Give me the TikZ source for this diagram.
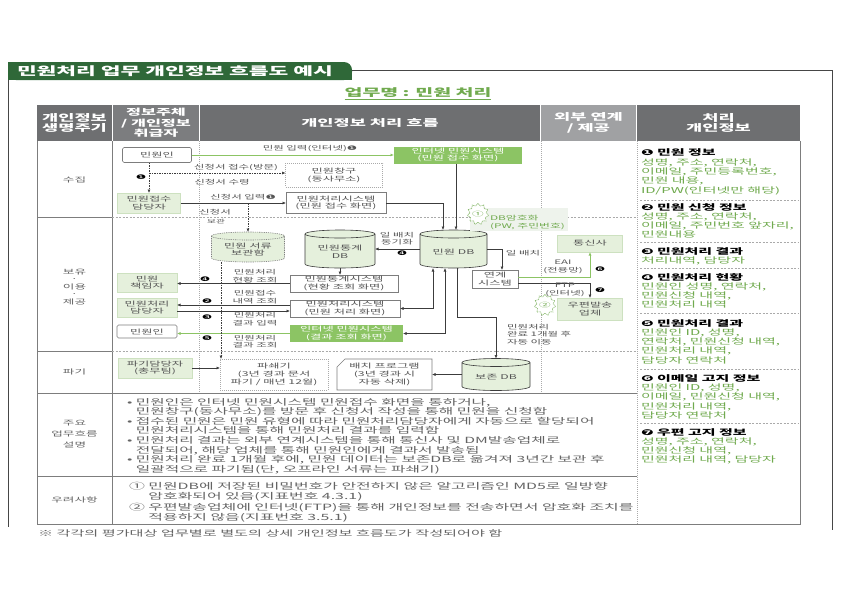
\documentclass[tikz,border=0pt]{standalone}
\usepackage{fontspec}
\setmainfont{Noto Sans CJK KR}[FakeStretch=1.85]
\newfontfamily\dv{DejaVu Sans}[FakeStretch=1.85]
\usetikzlibrary{arrows.meta,shapes.geometric}
\definecolor{tabgreen}{RGB}{47,104,56}
\definecolor{hdark}{RGB}{110,111,113}
\definecolor{hmid}{RGB}{124,125,127}
\definecolor{hlight}{RGB}{160,161,163}
\definecolor{gtext}{RGB}{112,170,78}
\definecolor{gbox}{RGB}{140,196,100}
\definecolor{lgreen}{RGB}{229,240,220}
\definecolor{lgreenb}{RGB}{205,225,192}
\definecolor{lgbg}{RGB}{238,243,236}
\definecolor{txt}{RGB}{85,85,85}
\definecolor{dtxt}{RGB}{100,100,100}
\definecolor{lin}{RGB}{60,60,60}
\definecolor{tline}{RGB}{125,125,125}
\definecolor{dline}{RGB}{170,170,170}
\definecolor{framec}{RGB}{70,70,70}
\newcommand{\fNode}{\fontsize{6.6}{7.8}\selectfont}
\newcommand{\fLab}{\fontsize{6.2}{7.6}\selectfont}
\newcommand{\fRc}{\fontsize{8.1}{9.3}\selectfont}
\newcommand{\fDesc}{\fontsize{8.5}{9.55}\selectfont}
\newcommand{\fHead}{\fontsize{9.5}{10.8}\selectfont}
\newcommand{\fCol}{\fontsize{6.8}{8}\selectfont}
\newcommand{\dbcyl}[7]{%
 \pgfmathsetmacro\cxl{#2-#4/2}%
 \pgfmathsetmacro\cxr{#2+#4/2}%
 \pgfmathsetmacro\cyt{#3-#5/2+4}%
 \pgfmathsetmacro\cyb{#3+#5/2-4}%
 \pgfmathsetmacro\crx{#4/2}%
 \path[#6] (\cxl,\cyt) -- (\cxl,\cyb) arc[start angle=180,end angle=360,x radius=\crx pt,y radius=4pt] -- (\cxr,\cyt) arc[start angle=0,end angle=180,x radius=\crx pt,y radius=4pt] -- cycle;
 \path[#6,fill=none] (\cxl,\cyt) arc[start angle=180,end angle=360,x radius=\crx pt,y radius=4pt];
 \node[minimum width=#4,minimum height=#5] (#1) at (#2,#3) {};
 \node (#1t) at (#2,#3+2.5) {#7};
}
\begin{document}
\begin{tikzpicture}[x=1pt,y=-1pt,
 every node/.style={inner sep=0pt,outer sep=0pt,text=txt,align=center,font=\fNode},
 wbox/.style={draw=tline,fill=white,line width=0.6pt},
 gfbox/.style={fill=gbox,text=white},
 lgbox/.style={fill=lgreen,draw=lgreenb,line width=0.4pt},
 dotbox/.style={draw=dline,dash pattern=on 1pt off 1pt,line width=0.6pt},
 arr/.style={draw=lin,line width=0.6pt,-{Latex[length=3.5pt,width=3pt]}},
 garr/.style={draw=gbox,line width=0.8pt,-{Latex[length=3.5pt,width=3pt]}},
 darr/.style={draw=lin,line width=0.6pt,dash pattern=on 1.5pt off 1pt,-{Latex[length=3.5pt,width=3pt]}},
 biarr/.style={draw=lin,line width=0.6pt,{Latex[length=3.5pt,width=3pt]}-{Latex[length=3.5pt,width=3pt]}},
 lbl/.style={font=\fLab,text=txt},
 bdg/.style={font=\dv\fontsize{6.3}{7}\selectfont,text=black},
 gearnode/.style={star,star points=11,star point ratio=1.3,draw=gtext,dash pattern=on 0.8pt off 0.6pt,line width=0.5pt,fill=white,minimum size=15,text=gtext,font=\fontsize{6.3}{6.3}\selectfont},
 hd/.style={text=white,font=\bfseries\fHead},
 colt/.style={font=\fCol,text=dtxt},
 rc/.style={anchor=north west,align=left,font=\fRc,text=gtext}]
\useasboundingbox (0,0) rectangle (842,595);
\fill[white] (0,0) rectangle (842,595);
% frame and title tab
\fill[tabgreen,rounded corners=8pt] (8,62) rectangle (352,80);
\fill[tabgreen] (8,62) rectangle (336,80);
\fill[tabgreen] (8,71) rectangle (352,80);
\draw[framec,line width=0.9pt] (352,70) -- (832,70) -- (832,530);
\draw[framec,line width=0.9pt] (8,80) -- (8,527);
\node[anchor=west,text=white,font=\bfseries\fontsize{11.6}{13}\selectfont] (title) at (17,71.5) {민원처리 업무 개인정보 흐름도 예시};
\node[text=gtext,font=\bfseries\fontsize{10.5}{12}\selectfont] (job) at (418,93) {업무명 : 민원 처리};
\draw[gtext,line width=0.6pt] ([yshift=-1.5pt]job.south west) -- ([yshift=-1.5pt]job.south east);
% header
\fill[hdark] (37,105) rectangle (112,141);
\fill[hmid] (113,105) rectangle (199,141);
\fill[hdark] (200,105) rectangle (540,141);
\fill[hlight] (541,105) rectangle (636,141);
\fill[hdark] (637,105) rectangle (800,141);
\node[hd] (h1) at (74.5,123) {개인정보\\생명주기};
\node[hd,font=\bfseries\fontsize{8.8}{10.5}\selectfont] (h2) at (156,123) {정보주체\\/ 개인정보\\취급자};
\node[hd] (h3) at (370,123) {개인정보 처리 흐름};
\node[hd] (h4) at (588.5,123) {외부 연계\\/ 제공};
\node[hd] (h5) at (718.5,123) {처리\\개인정보};
% table lines
\draw[tline,line width=0.7pt] (37,141) -- (37,524) -- (800,524) -- (800,141);
\draw[tline,line width=0.6pt] (112,141) -- (112,524);
\draw[tline,line width=0.6pt] (37,217) -- (112,217);
\draw[tline,line width=0.6pt] (37,351) -- (112,351);
\draw[tline,line width=0.6pt] (37,393) -- (637,393);
\draw[tline,line width=0.6pt] (37,476) -- (637,476);
\draw[dline,line width=0.6pt,dash pattern=on 2pt off 1.5pt] (112,217) -- (637,217);
\draw[dline,line width=0.6pt,dash pattern=on 2pt off 1.5pt] (112,351) -- (637,351);
\draw[dline,line width=0.6pt,dash pattern=on 1pt off 1pt] (199,141) -- (199,393);
\draw[dline,line width=0.6pt,dash pattern=on 1pt off 1pt] (541,141) -- (541,393);
\draw[dline,line width=0.6pt,dash pattern=on 1pt off 1pt] (637,141) -- (637,524);
\foreach \yy in {200,242,268,313,369,423}
  \draw[dline,line width=0.6pt,dash pattern=on 2pt off 1.5pt] (640,\yy) -- (798,\yy);
% column 1 labels
\node[colt] (c1) at (74.5,180) {수집};
\node[colt] (c2a) at (74.5,272) {보유};
\node[colt] (c2b) at (74.5,280) {·};
\node[colt] (c2c) at (74.5,287) {이용};
\node[colt] (c2d) at (74.5,295) {·};
\node[colt] (c2e) at (74.5,302) {제공};
\node[colt] (c3) at (74.5,372) {파기};
\node[colt,font=\fontsize{6.8}{11}\selectfont] (c4) at (74.5,434.5) {주요\\업무흐름\\설명};
\node[colt] (c5) at (74.5,500) {우려사항};
% right column
\node[rc] (r1) at (641,149) {\textcolor{black}{\bfseries{\dv ❶} 민원 정보}\\성명, 주소, 연락처,\\이메일, 주민등록번호,\\민원 내용,\\ID/PW(인터넷만 해당)};
\node[rc] (r2) at (641,203.2) {\textcolor{black}{\bfseries{\dv ❷} 민원 신청 정보}\\성명, 주소, 연락처,\\이메일, 주민번호 앞자리,\\민원내용};
\node[rc] (r3) at (641,247.5) {\textcolor{black}{\bfseries{\dv ❸} 민원처리 결과}\\처리내역, 담당자};
\node[rc] (r4) at (641,273.2) {\textcolor{black}{\bfseries{\dv ❹} 민원처리 현황}\\민원인 성명, 연락처,\\민원신청 내역,\\민원처리 내역};
\node[rc] (r5) at (641,319.2) {\textcolor{black}{\bfseries{\dv ❺} 민원처리 결과}\\민원인 ID, 성명,\\연락처, 민원신청 내역,\\민원처리 내역,\\담당자 연락처};
\node[rc] (r6) at (641,374.5) {\textcolor{black}{\bfseries{\dv ❻} 이메일 고지 정보}\\민원인 ID, 성명,\\이메일, 민원신청 내역,\\민원처리 내역,\\담당자 연락처};
\node[rc] (r7) at (641,428.2) {\textcolor{black}{\bfseries{\dv ❼} 우편 고지 정보}\\성명, 주소, 연락처,\\민원신청 내역,\\민원처리 내역, 담당자};
% description and concerns
\node[anchor=north west,align=left,font=\fDesc,text=dtxt] (desc) at (127,398.3) {• 민원인은 인터넷 민원시스템 민원접수 화면을 통하거나,\\\phantom{•} 민원창구(동사무소)를 방문 후 신청서 작성을 통해 민원을 신청함\\• 접수된 민원은 민원 유형에 따라 민원처리담당자에게 자동으로 할당되어\\\phantom{•} 민원처리시스템을 통해 민원처리 결과를 입력함\\• 민원처리 결과는 외부 연계시스템을 통해 통신사 및 DM발송업체로\\\phantom{•} 전달되어, 해당 업체를 통해 민원인에게 결과서 발송됨\\• 민원처리 완료 1개월 후에, 민원 데이터는 보존DB로 옮겨져 3년간 보관 후\\\phantom{•} 일괄적으로 파기됨(단, 오프라인 서류는 파쇄기)};
\node[anchor=north west,align=left,font=\fontsize{8.6}{10.4}\selectfont,text=dtxt] (risk) at (129,482.3) {① 민원DB에 저장된 비밀번호가 안전하지 않은 알고리즘인 MD5로 일방향\\\phantom{①} 암호화되어 있음(지표번호 4.3.1)\\② 우편발송업체에 인터넷(FTP)을 통해 개인정보를 전송하면서 암호화 조치를\\\phantom{②} 적용하지 않음(지표번호 3.5.1)};
\node[anchor=west,font=\fontsize{8.2}{9}\selectfont,text=dtxt] (foot) at (38,533) {※ 각각의 평가대상 업무별로 별도의 상세 개인정보 흐름도가 작성되어야 함};
% collection row nodes
\node[wbox,rounded corners=1.5pt,minimum width=69,minimum height=15] (A) at (157,155) {민원인};
\node[gfbox,minimum width=128,minimum height=17] (B) at (458,155) {인터넷 민원시스템\\(민원 접수 화면)};
\node[dotbox,minimum width=97,minimum height=24] (D) at (334,175) {민원창구\\(동사무소)};
\node[lgbox,minimum width=63,minimum height=20] (C) at (149,203) {민원접수\\담당자};
\node[wbox,minimum width=100,minimum height=21] (E) at (336,203) {민원처리시스템\\(민원 접수 화면)};
% databases
\dbcyl{F}{248}{247}{73}{30}{draw=tline,dash pattern=on 1.2pt off 1pt,fill=lgreen,line width=0.6pt}{민원 서류\\보관함}
\dbcyl{G}{340}{249}{70}{38}{draw=lin,fill=lgreen,line width=0.6pt}{민원통계\\DB}
\dbcyl{H}{453.5}{249}{67}{38}{draw=lin,fill=lgreen,line width=0.6pt}{민원 DB}
\dbcyl{U}{496}{374.5}{68}{32}{draw=lin,fill=lgreen,line width=0.6pt}{보존 DB}
% systems in use row
\node[wbox,minimum width=108,minimum height=17] (I) at (344,283.5) {민원통계시스템\\(현황 조회 화면)};
\node[wbox,minimum width=110,minimum height=17] (J) at (345,308.5) {민원처리시스템\\(민원 처리 화면)};
\node[gfbox,minimum width=113,minimum height=17] (K) at (346.5,333.5) {인터넷 민원시스템\\(결과 조회 화면)};
\node[wbox,minimum width=46,minimum height=18] (L) at (495,279) {연계\\시스템};
\node[lgbox,minimum width=65,minimum height=17] (M) at (590,243.5) {통신사};
\node[lgbox,minimum width=65,minimum height=22] (N) at (590,309) {우편발송\\업체};
\node[lgbox,minimum width=60,minimum height=19] (O) at (147,282.5) {민원\\책임자};
\node[lgbox,minimum width=60,minimum height=19] (P) at (147,307.5) {민원처리\\담당자};
\node[wbox,rounded corners=1.5pt,minimum width=60,minimum height=13] (Q) at (147,331.5) {민원인};
% destruction row
\node[lgbox,minimum width=74,minimum height=20] (R) at (155,368) {파기담당자\\(총무팀)};
\node[dotbox,minimum width=108,minimum height=31,font=\fontsize{6.6}{8.3}\selectfont] (S) at (274,374.5) {파쇄기\\(3년 경과 문서\\파기 / 매년 12월)};
\path[draw=tline,fill=white,line width=0.6pt] (337,390) -- (337,367) -- (345,359) -- (432,359) -- (432,390) -- cycle;
\node[minimum width=95,minimum height=31,font=\fontsize{6.6}{8.3}\selectfont] (T) at (384.5,374.5) {배치 프로그램\\(3년 경과 시\\자동 삭제)};
% encryption note
\fill[lgbg] (470,208) rectangle (568,231);
\node[gearnode] (g1) at (478,214) {①};
\node[anchor=west,align=left,font=\fontsize{6.4}{8}\selectfont,text=gtext] (enc) at (490,222) {DB암호화\\(PW, 주민번호)};
\node[gearnode] (g2) at (545,305) {②};
% connectors
\draw[garr] (A.east) -- (B.west);
\draw[darr] (C.north |- A.south) -- (C.north);
\coordinate (d0) at (149,173);
\draw[darr] (d0) -- (d0 -| D.west);
\draw[arr] (C.east) -- (E.west);
\coordinate (hx1) at (443,230);
\draw[arr] (E.east) -| (hx1);
\coordinate (hx2) at (456,230);
\draw[arr] (B.south -| hx2) -- (hx2);
\draw[darr] (C.east -| F.north) -- (F.north);
\draw[arr] (H.west) -- (G.east);
\draw[arr] (G.south) -- (G.south |- I.north);
\coordinate (hb1) at (433,268);
\draw[biarr] (J.east) -| (hb1);
\coordinate (hb2) at (445,268);
\draw[biarr] (K.east) -| (hb2);
\coordinate (hb3) at (457,268);
\coordinate (u1) at (496,317);
\draw[arr] (hb3) |- (u1) -- (U.north);
\coordinate (l1) at (502,270);
\draw[arr] (H.east) -| (l1);
\coordinate (l2) at (518,277);
\draw[garr] (l2) -| (M.south);
\coordinate (l3) at (518,283);
\draw[arr] (l3) -| (N.north);
\draw[arr] (I.west) -- (I.west -| O.east);
\coordinate (j1) at (290,305);
\draw[arr] (j1) -- (j1 -| P.east);
\coordinate (p1) at (177,311);
\draw[arr] (p1) -- (p1 -| J.west);
\draw[garr] (K.west) -- (K.west -| Q.east);
\coordinate (f1) at (221,262);
\draw[darr] (f1) -- (f1 |- S.north);
\draw[arr] (R.east) -- (R.east -| S.west);
\draw[arr] (U.west) -- (U.west -| T.east);
% labels and badges
\node[lbl] (t1) at (310,149) {민원 입력(인터넷){\dv ❶}};
\node[bdg] (b1) at (141,177) {❶};
\node[lbl] (t2) at (236,168) {신청서 접수(방문)};
\node[lbl] (t3) at (222,182.5) {신청서 수령};
\node[lbl] (t4) at (243,197.5) {신청서 입력{\dv ❶}};
\node[lbl] (t5) at (215,212) {신청서};
\node[lbl,font=\fontsize{5.2}{6}\selectfont] (t6) at (216,221) {보관};
\node[lbl] (t7) at (397,238.5) {일 배치\\동기화};
\node[bdg] (b2) at (402,253) {❹};
\node[lbl] (t8) at (523,253) {일 배치};
\node[lbl] (t9) at (563,267) {EAI\\(전용망)};
\node[bdg] (b3) at (600,269) {❻};
\node[lbl] (t10) at (565,290) {FTP\\(인터넷)};
\node[bdg] (b4) at (600,290) {❼};
\node[lbl,anchor=north west,align=left] (t11) at (507,324) {민원처리\\완료 1개월 후\\자동 이동};
\node[lbl] (t12) at (255,276) {민원처리\\현황 조회};
\node[bdg] (b5) at (205,279) {❹};
\node[lbl] (t13) at (255,297) {민원접수\\내역 조회};
\node[bdg] (b6) at (207,301) {❷};
\node[lbl] (t14) at (255,319) {민원처리\\결과 입력};
\node[bdg] (b7) at (207,317) {❸};
\node[lbl] (t15) at (255,341.5) {민원처리\\결과 조회};
\node[bdg] (b8) at (207,338) {❺};
\end{tikzpicture}
\end{document}
